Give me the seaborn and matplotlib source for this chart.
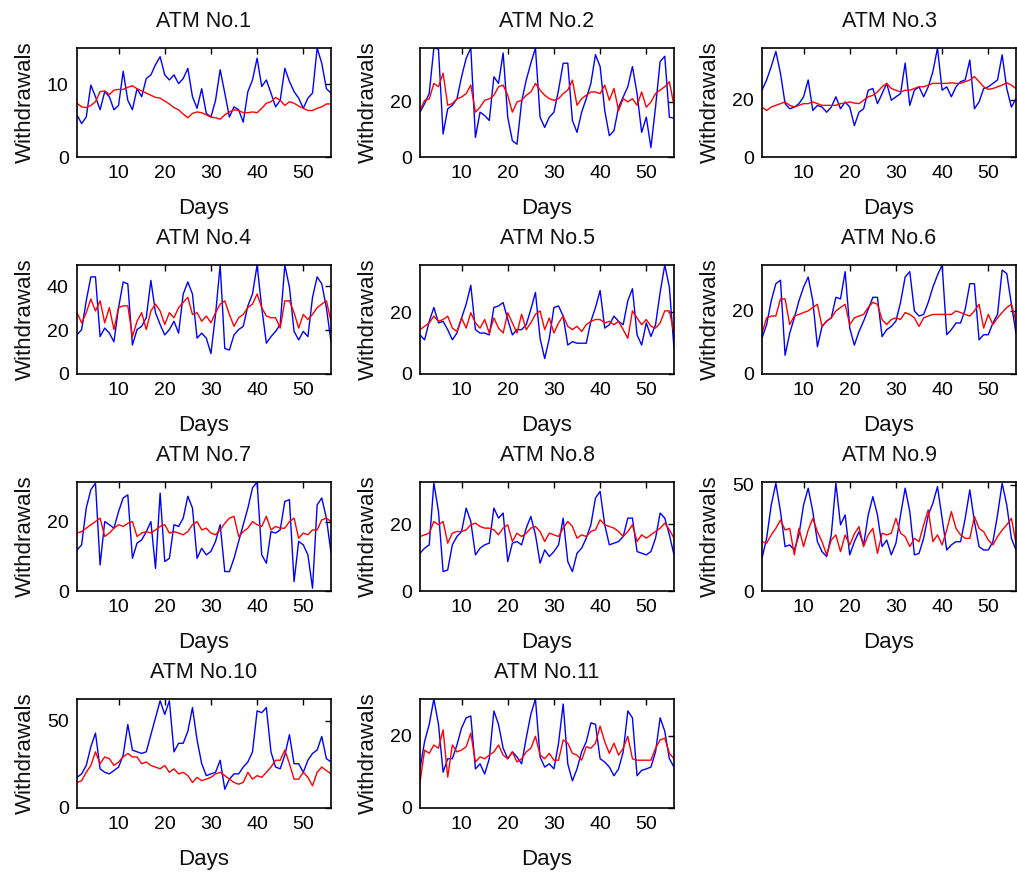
import numpy as np
import pandas as pd
import matplotlib
matplotlib.use("Agg")
import matplotlib.pyplot as plt
import seaborn as sns

days = list(range(1, 57))

titles = ["ATM No.%d" % i for i in range(1, 12)]
ymax = [15, 39.4, 38.2, 49.6, 35.4, 34.4, 31.4, 32.6, 51.3, 62.3, 30.1]
yticks = [[0, 10], [0, 20], [0, 20], [0, 20, 40], [0, 20], [0, 20],
          [0, 20], [0, 20], [0, 50], [0, 50], [0, 20]]
xticks = [10, 20, 30, 40, 50]

actual_1 = [5.8, 4.6, 5.5, 9.9, 8.3, 6.5, 9.0, 8.3, 6.5, 7.1, 11.8, 7.8, 6.5, 9.4, 8.3, 10.8, 11.3, 12.7, 13.8, 11.3,
            10.6, 11.3, 10.1, 10.8, 12.2, 8.3, 6.7, 9.4, 6.0, 5.5, 7.8, 12.0, 8.8, 5.5, 6.9, 6.5, 4.8, 9.0, 10.6, 13.6,
            9.7, 10.6, 8.8, 6.9, 7.8, 12.2, 10.4, 9.0, 8.1, 6.7, 8.1, 8.8, 15.0, 12.9, 9.4, 8.8]
forecast_1 = [7.4, 6.9, 6.8, 7.1, 7.6, 9.0, 9.1, 8.6, 9.2, 9.3, 9.3, 9.6, 9.8, 9.4, 9.1, 8.8, 8.5, 8.2, 8.1, 7.7,
              7.3, 6.8, 6.5, 5.9, 5.4, 6.0, 6.2, 6.1, 5.8, 5.5, 5.4, 5.2, 5.8, 6.2, 6.5, 6.4, 6.1, 6.1, 6.2, 6.1,
              6.7, 7.4, 7.6, 8.2, 7.8, 7.1, 7.6, 7.4, 7.0, 6.7, 6.4, 6.4, 6.7, 6.9, 7.3, 7.3]

actual_2 = [16.2, 19.3, 23.0, 39.4, 39.0, 8.3, 17.4, 18.7, 21.0, 29.0, 35.7, 39.4, 7.1, 16.2, 15.0, 13.2, 29.0, 26.6, 37.6, 14.4,
            5.9, 4.6, 19.9, 27.8, 33.9, 39.4, 14.4, 10.7, 14.4, 16.2, 24.2, 33.9, 33.9, 13.2, 8.9, 16.2, 21.1, 26.6, 37.0, 32.7,
            16.8, 7.7, 9.5, 18.0, 21.7, 25.4, 32.7, 22.9, 8.9, 14.4, 3.4, 18.0, 34.5, 36.4, 14.4, 14.0]
forecast_2 = [16.8, 20.5, 21.0, 26.6, 25.4, 30.3, 18.7, 19.3, 21.0, 21.7, 22.9, 26.0, 16.2, 18.0, 20.5, 21.0, 22.3, 25.4, 26.0, 22.3,
              16.2, 19.9, 20.5, 22.3, 23.5, 26.6, 24.2, 22.3, 21.1, 20.5, 21.1, 22.9, 24.2, 27.8, 18.7, 21.1, 22.3, 23.5, 23.5, 22.9,
              26.0, 20.5, 24.8, 16.8, 21.1, 19.9, 21.1, 18.7, 23.5, 18.0, 19.9, 22.9, 24.2, 25.4, 27.2, 18.7]

actual_3 = [23.4, 27.0, 31.7, 37.0, 29.3, 18.7, 16.9, 17.5, 18.7, 21.1, 27.0, 16.3, 18.1, 17.5, 15.7, 17.5, 21.1, 16.9, 19.3, 17.5,
            11.0, 15.7, 16.9, 23.4, 24.0, 18.7, 22.2, 25.8, 19.9, 21.1, 22.2, 32.9, 18.1, 23.4, 24.6, 21.1, 24.6, 29.9, 38.2, 23.4,
            24.6, 21.1, 24.6, 26.4, 27.0, 34.0, 16.9, 19.3, 24.0, 24.6, 25.8, 27.0, 35.8, 24.0, 17.5, 20.5]
forecast_3 = [17.5, 16.3, 17.5, 18.1, 18.7, 19.3, 18.1, 17.5, 18.1, 18.7, 18.7, 19.3, 18.7, 18.1, 18.1, 18.1, 18.1, 18.7, 18.9, 19.3,
              18.9, 18.7, 19.9, 21.1, 21.6, 22.8, 24.6, 25.8, 24.0, 23.4, 22.8, 23.4, 23.4, 24.0, 24.6, 24.6, 25.2, 25.8, 25.8, 25.8,
              25.8, 26.0, 25.8, 25.8, 26.4, 27.0, 28.2, 26.4, 24.6, 23.7, 24.0, 24.6, 25.2, 26.0, 25.2, 24.0]

actual_4 = [17.8, 20.2, 33.3, 44.2, 44.2, 17.0, 20.9, 18.6, 14.7, 30.2, 41.9, 41.0, 13.2, 20.2, 21.7, 25.6, 42.6, 27.9, 22.5, 17.8,
            20.2, 24.0, 18.6, 36.4, 41.9, 36.4, 16.3, 18.6, 16.3, 9.3, 27.1, 49.6, 11.6, 10.9, 17.8, 20.2, 21.7, 31.0, 36.4, 49.6,
            30.2, 14.0, 17.0, 19.4, 22.5, 49.6, 39.5, 19.4, 15.5, 19.4, 17.0, 34.9, 44.2, 41.0, 30.2, 14.7]
forecast_4 = [27.9, 23.3, 27.9, 34.1, 28.7, 33.3, 23.3, 30.2, 20.2, 30.2, 31.0, 31.0, 17.0, 24.0, 27.9, 20.2, 28.7, 31.8, 28.7, 22.5,
              27.9, 25.6, 30.2, 32.6, 34.9, 27.1, 27.9, 24.0, 26.4, 23.3, 27.9, 31.8, 33.3, 27.1, 21.7, 25.6, 27.1, 30.2, 31.8, 36.4,
              30.2, 26.4, 25.6, 25.6, 20.9, 33.3, 33.3, 27.9, 20.9, 27.1, 24.8, 27.1, 30.2, 31.8, 33.3, 24.0]

actual_5 = [12.7, 11.1, 17.1, 21.6, 16.6, 17.1, 14.4, 11.1, 13.3, 18.2, 22.7, 28.8, 14.4, 13.3, 13.3, 12.7, 21.6, 22.1, 23.2, 17.7,
            12.7, 14.4, 14.4, 16.0, 21.0, 26.5, 11.6, 5.0, 11.6, 21.6, 22.1, 18.8, 9.4, 10.5, 10.0, 10.0, 10.0, 17.1, 21.6, 27.1,
            14.9, 16.0, 18.8, 17.1, 16.0, 23.8, 27.7, 12.7, 9.4, 16.6, 12.2, 16.0, 26.5, 35.4, 28.2, 8.3]
forecast_5 = [14.4, 15.5, 16.6, 18.8, 17.1, 17.7, 18.8, 14.9, 13.8, 18.2, 14.9, 19.9, 16.6, 14.9, 17.7, 13.3, 18.2, 14.9, 13.3, 19.9,
              16.6, 13.3, 19.4, 14.4, 16.6, 19.4, 20.5, 14.4, 18.2, 13.3, 16.6, 18.8, 15.5, 14.4, 15.5, 13.8, 16.0, 17.1, 17.7, 17.7,
              16.6, 17.1, 16.0, 17.1, 14.4, 11.6, 20.5, 18.2, 16.0, 17.7, 15.5, 14.9, 16.6, 20.5, 20.5, 13.3]

actual_6 = [11.3, 15.6, 23.1, 28.5, 29.6, 5.9, 12.9, 17.7, 23.1, 27.4, 30.6, 23.1, 8.6, 15.0, 16.7, 17.7, 24.2, 23.7, 32.3, 14.5,
            9.1, 13.4, 16.7, 20.4, 24.2, 24.2, 11.8, 14.0, 15.0, 16.7, 22.6, 30.6, 32.3, 19.9, 18.3, 18.8, 22.6, 27.4, 31.2, 34.4,
            12.4, 14.0, 16.1, 16.1, 20.4, 28.5, 28.5, 10.8, 12.4, 12.4, 16.1, 18.8, 32.8, 31.7, 22.0, 12.9]
forecast_6 = [12.9, 17.7, 18.3, 18.3, 23.7, 23.7, 15.6, 18.3, 18.8, 19.4, 19.9, 21.0, 22.0, 15.0, 16.7, 17.7, 19.9, 21.0, 22.0, 15.6,
              17.7, 18.3, 18.8, 21.0, 22.6, 22.0, 17.2, 15.6, 17.2, 17.7, 17.2, 19.4, 18.8, 17.7, 15.0, 17.7, 18.3, 18.8, 18.8, 18.8,
              18.8, 18.8, 19.9, 19.4, 18.8, 18.3, 19.9, 22.0, 14.5, 18.8, 15.6, 17.7, 19.4, 21.0, 22.0, 16.7]

actual_7 = [11.8, 13.3, 23.9, 29.2, 31.1, 7.5, 20.0, 19.1, 18.1, 22.9, 26.8, 27.7, 9.4, 13.8, 14.7, 17.1, 20.0, 6.5, 28.2, 8.5,
            9.4, 19.1, 18.6, 21.0, 27.3, 23.9, 9.4, 12.3, 10.4, 11.4, 14.3, 19.1, 5.6, 5.6, 9.4, 14.3, 19.1, 23.9, 29.7, 31.4,
            10.4, 8.0, 17.1, 16.7, 17.6, 25.8, 26.3, 2.7, 14.3, 13.3, 10.4, 0.8, 24.8, 26.8, 21.0, 11.0]
forecast_7 = [16.7, 17.1, 18.1, 19.1, 20.0, 21.0, 15.7, 16.7, 18.1, 19.1, 18.6, 19.5, 20.0, 15.7, 16.7, 17.1, 16.7, 17.6, 18.6, 19.1,
              16.7, 17.1, 16.7, 16.2, 17.1, 19.1, 20.0, 17.6, 18.1, 16.7, 16.2, 17.6, 19.5, 21.0, 21.5, 15.7, 17.1, 18.1, 20.0, 19.1,
              18.6, 21.5, 17.6, 18.6, 18.1, 18.1, 20.0, 21.0, 15.2, 16.7, 16.2, 17.6, 17.6, 20.5, 21.0, 20.0]

actual_8 = [11.3, 12.8, 13.8, 32.3, 23.8, 5.8, 6.3, 13.8, 16.3, 17.8, 24.8, 20.8, 10.8, 12.8, 13.8, 14.3, 24.8, 21.8, 23.3, 8.8,
            14.3, 14.8, 13.8, 18.8, 22.3, 16.8, 8.3, 12.3, 10.3, 11.8, 13.8, 21.8, 8.8, 5.8, 11.3, 12.8, 15.8, 19.8, 27.8, 29.8,
            19.8, 13.8, 14.3, 14.8, 16.3, 21.8, 21.8, 11.8, 11.3, 10.8, 11.8, 15.8, 23.3, 21.8, 16.8, 10.8]
forecast_8 = [16.3, 16.8, 17.3, 20.8, 19.8, 20.8, 14.3, 17.3, 17.8, 17.8, 18.3, 19.8, 20.3, 19.3, 18.8, 18.8, 18.3, 16.8, 18.8, 19.8,
              14.8, 17.3, 16.3, 17.3, 18.8, 19.3, 17.8, 14.8, 17.3, 16.8, 16.3, 18.8, 20.8, 19.3, 15.8, 16.8, 16.3, 17.8, 18.3, 21.3,
              19.8, 19.3, 18.8, 17.8, 16.3, 17.8, 19.8, 14.8, 16.8, 15.8, 16.8, 17.8, 18.8, 20.3, 18.3, 15.8]

actual_9 = [15.4, 24.8, 40.5, 50.7, 37.4, 20.9, 21.7, 19.3, 26.4, 40.5, 48.4, 37.4, 23.2, 18.5, 16.2, 26.4, 50.7, 31.1, 35.8, 17.0,
            23.2, 27.9, 21.7, 35.8, 44.4, 35.8, 20.9, 24.0, 17.0, 22.5, 35.8, 48.4, 37.4, 17.0, 17.7, 24.8, 35.8, 41.3, 49.1, 34.2,
            19.3, 21.7, 23.2, 23.2, 34.2, 47.6, 32.7, 20.9, 19.3, 19.3, 23.2, 35.8, 50.7, 40.5, 24.8, 19.3]
forecast_9 = [23.2, 22.5, 26.4, 29.5, 33.4, 28.7, 29.5, 17.0, 29.5, 20.9, 28.7, 34.2, 27.9, 23.2, 17.0, 24.0, 26.4, 18.5, 26.4, 21.7,
              26.9, 30.3, 20.9, 26.4, 29.5, 17.7, 27.2, 26.4, 27.2, 34.2, 27.2, 25.6, 20.9, 24.8, 23.2, 31.1, 38.2, 23.2, 26.4, 21.7,
              28.7, 37.4, 29.5, 26.4, 24.8, 24.8, 35.0, 29.5, 27.9, 24.0, 21.7, 25.6, 28.7, 31.1, 34.2, 22.5]

actual_10 = [17.5, 19.5, 24.3, 35.0, 42.8, 22.4, 20.4, 19.5, 21.4, 23.4, 30.2, 47.7, 33.1, 32.1, 31.2, 32.1, 41.9, 51.6, 61.3, 53.5,
             61.3, 32.1, 37.0, 37.0, 43.8, 57.4, 38.9, 25.3, 18.5, 19.5, 20.4, 27.3, 10.7, 16.5, 19.5, 19.5, 23.4, 26.3, 32.1, 55.5,
             54.5, 57.4, 32.1, 23.4, 22.4, 30.2, 41.9, 25.3, 25.3, 20.4, 27.3, 31.2, 33.1, 40.9, 28.2, 26.3]
forecast_10 = [14.6, 15.6, 20.4, 24.3, 32.1, 25.3, 29.2, 28.2, 24.3, 26.3, 29.2, 31.2, 29.2, 29.2, 25.3, 26.3, 24.3, 23.4, 22.4, 24.3,
               20.4, 22.4, 19.5, 20.4, 18.5, 14.6, 17.5, 15.6, 16.5, 17.5, 19.5, 20.4, 18.5, 16.5, 14.6, 13.6, 14.6, 20.4, 16.5, 18.5,
               17.5, 20.4, 23.4, 27.3, 27.3, 33.1, 25.3, 16.5, 16.5, 20.4, 17.5, 12.7, 20.4, 23.4, 21.4, 19.5]

actual_11 = [10.8, 18.4, 23.1, 30.1, 23.1, 9.9, 13.6, 13.6, 17.4, 22.1, 24.9, 25.4, 10.8, 12.2, 9.4, 13.6, 26.8, 23.1, 16.5, 13.6,
             15.5, 14.1, 12.2, 19.3, 25.9, 30.1, 14.1, 11.3, 12.2, 10.8, 17.9, 28.7, 12.2, 7.5, 10.8, 15.5, 18.3, 23.5, 23.1, 13.6,
             12.7, 11.3, 8.9, 10.8, 15.5, 26.8, 24.9, 8.9, 10.4, 10.8, 11.3, 15.5, 24.9, 21.2, 13.6, 11.3]
forecast_11 = [7.1, 16.0, 15.1, 17.4, 16.5, 21.6, 8.5, 17.4, 15.5, 16.0, 16.9, 20.7, 12.7, 14.1, 13.6, 14.6, 15.5, 17.4, 14.6, 13.6,
               15.5, 12.7, 13.6, 15.5, 16.5, 19.8, 14.6, 13.6, 15.1, 13.2, 13.2, 18.8, 17.9, 15.1, 14.6, 13.2, 16.9, 16.5, 17.9, 22.6,
               18.3, 15.1, 17.9, 14.6, 16.5, 19.8, 13.6, 13.2, 13.2, 13.2, 13.2, 16.5, 18.8, 19.3, 15.1, 13.6]

actuals = [actual_1, actual_2, actual_3, actual_4, actual_5, actual_6, actual_7, actual_8, actual_9, actual_10, actual_11]
forecasts = [forecast_1, forecast_2, forecast_3, forecast_4, forecast_5, forecast_6, forecast_7, forecast_8, forecast_9,
             forecast_10, forecast_11]

sns.set_style("white")
plt.rcParams['font.family'] = ['Liberation Sans', 'DejaVu Sans']

W, H = 1017, 876
fig = plt.figure(figsize=(W / 100, H / 100), dpi=100)

col_left = [77, 420, 762]
row_top = [48, 265, 482, 699]
ax_w, ax_h = 254, 109

for i in range(11):
    r, c = divmod(i, 3)
    left = col_left[c] / W
    bottom = 1 - (row_top[r] + ax_h) / H
    ax = fig.add_axes([left, bottom, ax_w / W, ax_h / H])
    df = pd.DataFrame({"Days": days, "actual": actuals[i], "forecast": forecasts[i]})
    sns.lineplot(data=df, x="Days", y="actual", color="#0000ff", linewidth=1.0, ax=ax)
    sns.lineplot(data=df, x="Days", y="forecast", color="#ff0000", linewidth=1.0, ax=ax)
    ax.set_xlim(1, 56)
    ax.set_ylim(0, ymax[i])
    ax.set_xticks(xticks)
    ax.set_yticks(yticks[i])
    ax.tick_params(direction="in", top=True, right=True, length=4, width=1,
                   labelsize=14, pad=6, colors="black")
    for sp in ax.spines.values():
        sp.set_color("black")
        sp.set_linewidth(1.2)
    ax.set_title(titles[i], fontsize=15.5, pad=15, color="#111111")
    ax.set_xlabel("Days", fontsize=16, labelpad=11, color="#111111")
    ax.set_ylabel("Withdrawals", fontsize=16, labelpad=8, color="#111111")

fig.savefig("out.png", dpi=100, facecolor="white")
